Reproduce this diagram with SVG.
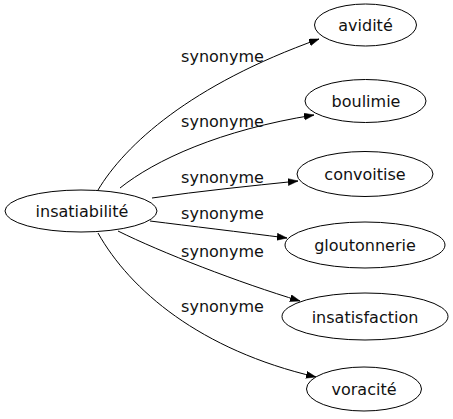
<svg xmlns="http://www.w3.org/2000/svg" width="453" height="419" viewBox="0 0 453 419">
<style>
.node ellipse{fill:#fff;stroke:#000;stroke-width:1}
.node text{font-family:"DejaVu Sans",sans-serif;font-size:16px;fill:#111;text-anchor:middle}
.edge path{fill:none;stroke:#000;stroke-width:1}
.lbl{font-family:"DejaVu Sans",sans-serif;font-size:16px;fill:#111;text-anchor:middle}
</style>
<defs>
<marker id="ah" markerUnits="userSpaceOnUse" markerWidth="11" markerHeight="8" refX="10" refY="3.5" orient="auto">
<path d="M0,0 L10,3.5 L0,7 z" fill="#000" stroke="#000" stroke-width="0.5"/>
</marker>
</defs>
<rect width="453" height="419" fill="#fff"/>
<g id="edges">
<g class="edge"><path d="M98,190 C125,145 190,85 319,39" marker-end="url(#ah)"/><text class="lbl" x="222.5" y="62">synonyme</text></g>
<g class="edge"><path d="M120,188 C155,160 220,130 314,115" marker-end="url(#ah)"/><text class="lbl" x="222.5" y="127">synonyme</text></g>
<g class="edge"><path d="M152,198 C200,191 250,186 298,181" marker-end="url(#ah)"/><text class="lbl" x="222.5" y="183">synonyme</text></g>
<g class="edge"><path d="M150,221 C190,226 240,232 287,238" marker-end="url(#ah)"/><text class="lbl" x="222.5" y="219">synonyme</text></g>
<g class="edge"><path d="M118,231 C160,252 240,283 300,301" marker-end="url(#ah)"/><text class="lbl" x="222.5" y="257">synonyme</text></g>
<g class="edge"><path d="M98,233 C130,290 200,350 316,377" marker-end="url(#ah)"/><text class="lbl" x="222.5" y="312">synonyme</text></g>
</g>
<g id="n0" class="node"><ellipse cx="81" cy="211" rx="76" ry="21"/><text x="82" y="217">insatiabilité</text></g>
<g id="n1" class="node"><ellipse cx="365.5" cy="25" rx="51" ry="21"/><text x="365.5" y="31">avidité</text></g>
<g id="n2" class="node"><ellipse cx="365.5" cy="101" rx="60.5" ry="21.5"/><text x="366" y="106.5">boulimie</text></g>
<g id="n3" class="node"><ellipse cx="365" cy="174" rx="68" ry="22.5"/><text x="365" y="180">convoitise</text></g>
<g id="n4" class="node"><ellipse cx="365" cy="245" rx="80" ry="23"/><text x="365" y="251">gloutonnerie</text></g>
<g id="n5" class="node"><ellipse cx="365" cy="316.5" rx="83" ry="23.5"/><text x="365" y="322.5">insatisfaction</text></g>
<g id="n6" class="node"><ellipse cx="364" cy="389" rx="57.5" ry="22"/><text x="364" y="395">voracité</text></g>
</svg>
